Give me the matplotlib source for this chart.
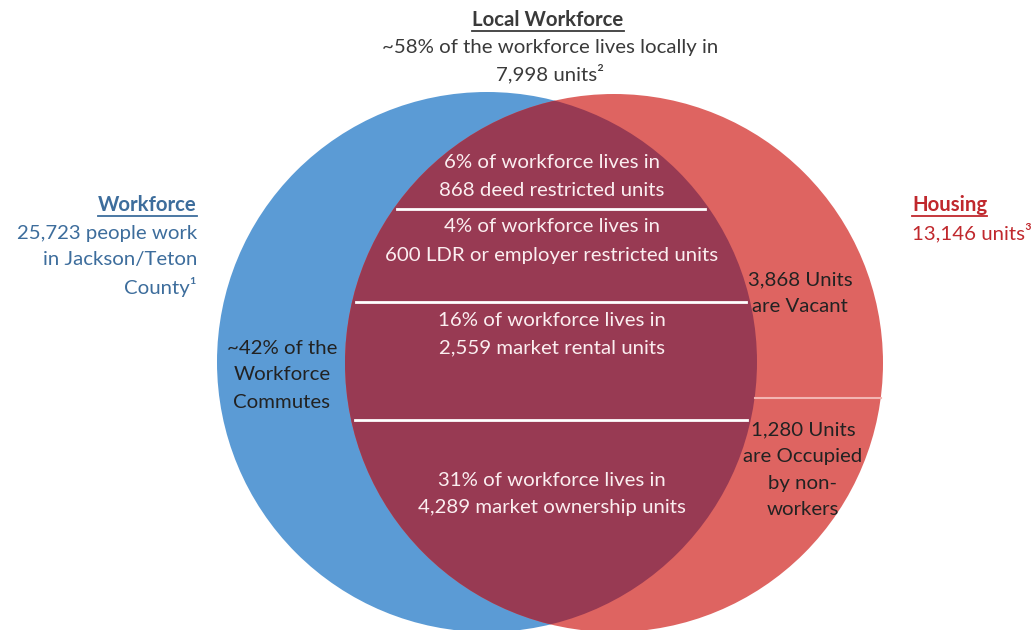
import numpy as np
import matplotlib.pyplot as plt
from matplotlib.patches import Circle

plt.rcParams["font.family"] = ["Lato", "DejaVu Sans"]

# data
workforce_total = "25,723"
housing_total = "13,146"
local_share = "~58%"
local_units = "7,998"
commute_share = "~42%"
seg_shares = ["6%", "4%", "16%", "31%"]
seg_units = ["868", "600", "2,559", "4,289"]
seg_kinds = ["deed restricted units", "LDR or employer restricted units",
             "market rental units", "market ownership units"]
vacant_units = "3,868"
nonworker_units = "1,280"

BLUE = "#5b9bd5"
RED = "#de6461"
MID = "#983a53"
BLUE_TXT = "#3d6d9c"
RED_TXT = "#c0282d"
DARK = "#3a3a3a"

fig = plt.figure(figsize=(10.36, 6.3), dpi=100)
ax = fig.add_axes([0, 0, 1, 1])
ax.set_xlim(0, 1036)
ax.set_ylim(630, 0)
ax.axis("off")

bc, br = (487, 362), 270
rc, rr = (614, 363), 269
blue = Circle(bc, br, color=BLUE, lw=0)
red = Circle(rc, rr, color=RED, lw=0)
ax.add_patch(blue)
ax.add_patch(red)
mid = Circle(rc, rr, color=MID, lw=0)
ax.add_patch(mid)
mid.set_clip_path(blue)


def half_width(c, r, y):
    return np.sqrt(r ** 2 - (y - c[1]) ** 2)


# divider lines inside the overlap
for y in [209, 302, 420]:
    x0 = rc[0] - half_width(rc, rr, y) + 4
    x1 = bc[0] + half_width(bc, br, y) - 4
    ax.plot([x0, x1], [y, y], color="white", lw=2)
y = 398
ax.plot([bc[0] + half_width(bc, br, y), rc[0] + half_width(rc, rr, y)], [y, y],
        color="#f3b5b2", lw=1.5)

fs = 14.7


def underlined(x, y, s, color, ha):
    t = ax.text(x, y, s, fontsize=fs, fontweight="bold", color=color, ha=ha, va="center")
    fig.canvas.draw()
    bb = t.get_window_extent().transformed(ax.transData.inverted())
    ax.plot([bb.x0, bb.x1], [bb.y0 + 1, bb.y0 + 1], color=color, lw=1.3)


def lines(x, y0, rows, color, ha="center", step=27):
    for i, r in enumerate(rows):
        ax.text(x, y0 + i * step, r, fontsize=fs, color=color, ha=ha, va="center")


underlined(548, 20, "Local Workforce", DARK, "center")
lines(550, 47, [f"{local_share} of the workforce lives locally in", f"{local_units} units\u00b2"], DARK)

underlined(197, 205, "Workforce", BLUE_TXT, "right")
lines(197, 233, [f"{workforce_total} people work", "in Jackson/Teton", "County\u00b9"], BLUE_TXT, ha="right")

underlined(912, 205, "Housing", RED_TXT, "left")
lines(912, 233, [f"{housing_total} units\u00b3"], RED_TXT, ha="left")

seg_y = [163, 227, 320, 480]
for y, p, u, k in zip(seg_y, seg_shares, seg_units, seg_kinds):
    lines(552, y, [f"{p} of workforce lives in", f"{u} {k}"], "#fbeef0", step=28)

lines(282, 348, [f"{commute_share} of the", "Workforce", "Commutes"], "#222222")
lines(800, 280, [f"{vacant_units} Units", "are Vacant"], "#222222")
lines(803, 430, [f"{nonworker_units} Units", "are Occupied", "by non-", "workers"], "#222222", step=26.5)

fig.savefig("out.png", dpi=100)
